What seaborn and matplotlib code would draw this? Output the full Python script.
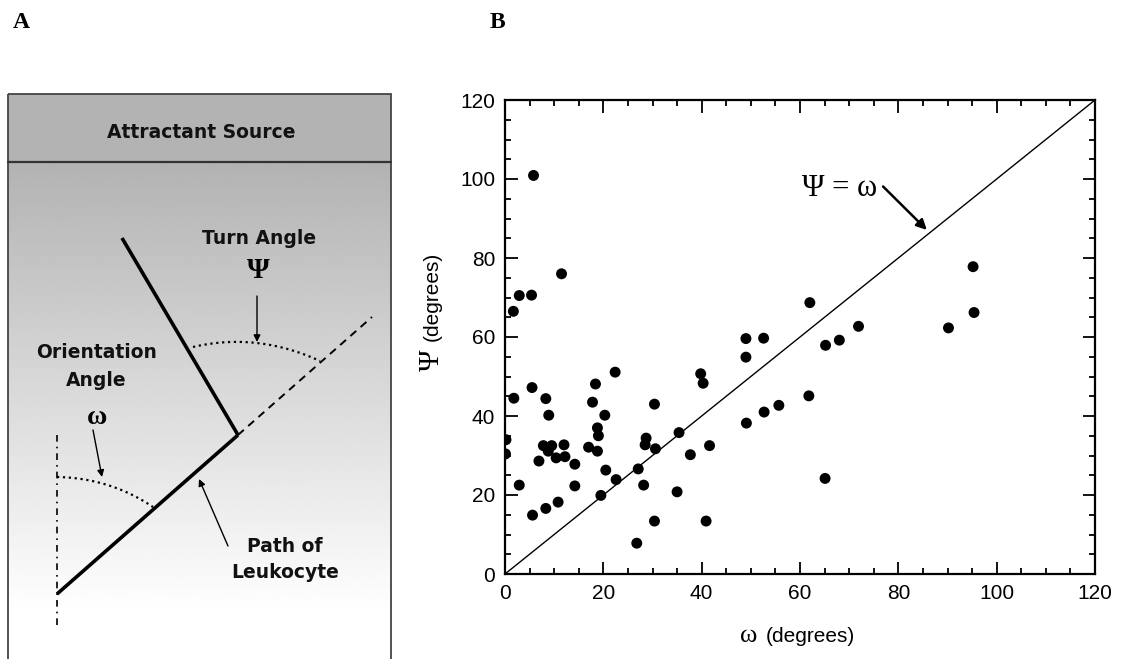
import numpy as np
import pandas as pd
import seaborn as sns
import matplotlib.pyplot as plt
from matplotlib.patches import Rectangle

# orientation angle (omega) and turn angle (psi), degrees
omega = [5.8, 11.5, 1.7, 2.9, 5.4, 1.8, 5.5, 8.3, 8.9, 0.2, 0.1, 2.9, 5.6,
         6.9, 7.8, 8.8, 9.5, 10.4, 12.0, 12.2, 10.8, 8.3, 14.2, 14.2, 17.0,
         17.8, 18.4, 18.8, 19.0, 18.8, 19.5, 20.3, 20.5, 22.4, 22.6, 26.8,
         27.1, 28.2, 28.7, 28.5, 30.4, 30.4, 30.6, 35.0, 35.4, 37.7, 39.8,
         40.3, 40.9, 41.6, 49.0, 49.0, 49.1, 52.6, 52.7, 55.7, 61.8, 62.0,
         65.1, 65.2, 68.0, 71.9, 90.2, 95.2, 95.4]
psi = [100.9, 76.0, 66.5, 70.5, 70.6, 44.5, 47.2, 44.4, 40.2, 34.0, 30.4,
       22.5, 14.9, 28.6, 32.5, 31.1, 32.5, 29.4, 32.7, 29.7, 18.2, 16.6,
       27.8, 22.3, 32.1, 43.5, 48.1, 37.0, 35.0, 31.1, 19.9, 40.2, 26.3,
       51.1, 23.9, 7.8, 26.6, 22.5, 34.4, 32.7, 43.0, 13.4, 31.7, 20.8,
       35.8, 30.2, 50.7, 48.3, 13.4, 32.5, 59.6, 54.9, 38.2, 59.7, 41.0,
       42.7, 45.1, 68.7, 24.2, 57.9, 59.2, 62.7, 62.3, 77.8, 66.2]

major_ticks = [0, 20, 40, 60, 80, 100, 120]
minor_ticks = list(range(0, 121, 5))

df = pd.DataFrame({'omega': omega, 'psi': psi})

sns.set_style('ticks')
plt.rcParams['font.family'] = ['Liberation Sans', 'DejaVu Sans']
plt.rcParams['text.color'] = 'black'
plt.rcParams['axes.labelcolor'] = 'black'
plt.rcParams['xtick.color'] = 'black'
plt.rcParams['ytick.color'] = 'black'

fig = plt.figure(figsize=(11.23, 6.59), dpi=100)

# ---- panel A: schematic, drawn in pixel coordinates ----
axA = fig.add_axes([0, 0, 1, 1], zorder=0)
grad = np.clip(np.linspace(0.70, 1.03, 300), 0, 1).reshape(-1, 1)
axA.imshow(grad, cmap='gray', vmin=0, vmax=1, aspect='auto',
           extent=(8, 391, 659, 162), interpolation='bilinear')
axA.add_patch(Rectangle((8, 94), 383, 68, facecolor='#b3b3b3', edgecolor='none'))
axA.plot([8, 391], [162, 162], color='#333333', lw=1.6)
axA.add_patch(Rectangle((8, 94), 383, 580, fill=False, edgecolor='#444444', lw=1.3))
axA.set_xlim(0, 1123)
axA.set_ylim(659, 0)
axA.axis('off')

bold = dict(fontfamily='DejaVu Sans', fontweight='bold', fontsize=13.5,
            color='#111111', ha='center', va='center')
axA.text(201, 133, 'Attractant Source', **bold)
axA.text(259, 238, 'Turn Angle', **bold)
axA.text(97, 353, 'Orientation', **bold)
axA.text(96, 380, 'Angle', **bold)
axA.text(285, 546, 'Path of', **bold)
axA.text(285, 573, 'Leukocyte', **bold)
axA.text(258, 270, 'Ψ', fontfamily='Liberation Serif', fontweight='bold',
         fontsize=21, ha='center', va='center')
axA.text(97, 417, 'ω', fontfamily='Liberation Serif', fontweight='bold',
         fontsize=20, ha='center', va='center')

axA.plot([122, 238], [238, 435], color='black', lw=2.6, solid_capstyle='butt')
axA.plot([238, 57], [435, 594], color='black', lw=2.6, solid_capstyle='butt')
axA.plot([238, 372], [435, 317], color='black', lw=1.4, ls=(0, (4, 3)))
axA.plot([57, 57], [435, 630], color='black', lw=1.2, ls=(0, (4, 3, 1, 3)))

t = np.linspace(0, 1, 60)
def bezier(p0, p1, p2):
    x = (1 - t) ** 2 * p0[0] + 2 * (1 - t) * t * p1[0] + t ** 2 * p2[0]
    y = (1 - t) ** 2 * p0[1] + 2 * (1 - t) * t * p1[1] + t ** 2 * p2[1]
    return x, y
axA.plot(*bezier((193, 347), (257, 332), (320, 361)), color='black', lw=1.6, ls=':')
axA.plot(*bezier((57, 477), (110, 478), (153, 507)), color='black', lw=1.6, ls=':')

arr = dict(arrowstyle='-|>', color='black', lw=1.0, mutation_scale=10, shrinkA=0, shrinkB=0)
axA.annotate('', xy=(257, 342), xytext=(257, 296), arrowprops=arr)
axA.annotate('', xy=(102, 477), xytext=(93, 430), arrowprops=arr)
axA.annotate('', xy=(199, 479), xytext=(228, 546), arrowprops=arr)

# ---- panel B: scatter ----
ax = fig.add_axes([505 / 1123, 85 / 659, 590 / 1123, 474 / 659], zorder=1)
sns.scatterplot(data=df, x='omega', y='psi', color='black', s=62,
                edgecolor='none', ax=ax)
ax.axline((0, 0), slope=1, color='black', lw=1.0)
ax.set_xlim(0, 120)
ax.set_ylim(0, 120)
ax.set_xticks(major_ticks)
ax.set_yticks(major_ticks)
ax.set_xticks(minor_ticks, minor=True)
ax.set_yticks(minor_ticks, minor=True)
ax.tick_params(which='both', direction='in', top=True, right=True,
               width=1.3, color='black', labelcolor='black', labelsize=15)
ax.tick_params(which='major', length=9, pad=7)
ax.tick_params(which='minor', length=4.5)
for s in ax.spines.values():
    s.set_linewidth(1.6)
    s.set_color('black')

ax.set_xlabel('')
ax.set_ylabel('')
ax.text(0.4136, -0.131, 'ω', transform=ax.transAxes, fontfamily='Liberation Serif',
        fontsize=19, ha='center', va='center')
ax.text(0.518, -0.131, '(degrees)', transform=ax.transAxes,
        fontsize=15, ha='center', va='center')
ax.text(-0.124, 0.452, 'Ψ', transform=ax.transAxes, rotation=90,
        fontfamily='Liberation Serif', fontsize=21, ha='center', va='center')
ax.text(-0.124, 0.585, '(degrees)', transform=ax.transAxes, rotation=90,
        fontsize=15, ha='center', va='center')

ax.text(68.1, 97.7, 'Ψ = ω', fontfamily='Liberation Serif', fontsize=22,
        ha='center', va='center')
ax.annotate('', xy=(85.8, 87.1), xytext=(76.9, 98.1),
            arrowprops=dict(arrowstyle='-|>', color='black', lw=1.8,
                            mutation_scale=15, shrinkA=0, shrinkB=0))

fig.text(21 / 1123, 1 - 22 / 659, 'A', fontfamily='Liberation Serif',
         fontweight='bold', fontsize=17, ha='center', va='center')
fig.text(497 / 1123, 1 - 22 / 659, 'B', fontfamily='Liberation Serif',
         fontweight='bold', fontsize=17, ha='center', va='center')

fig.savefig('out.png', dpi=100)
